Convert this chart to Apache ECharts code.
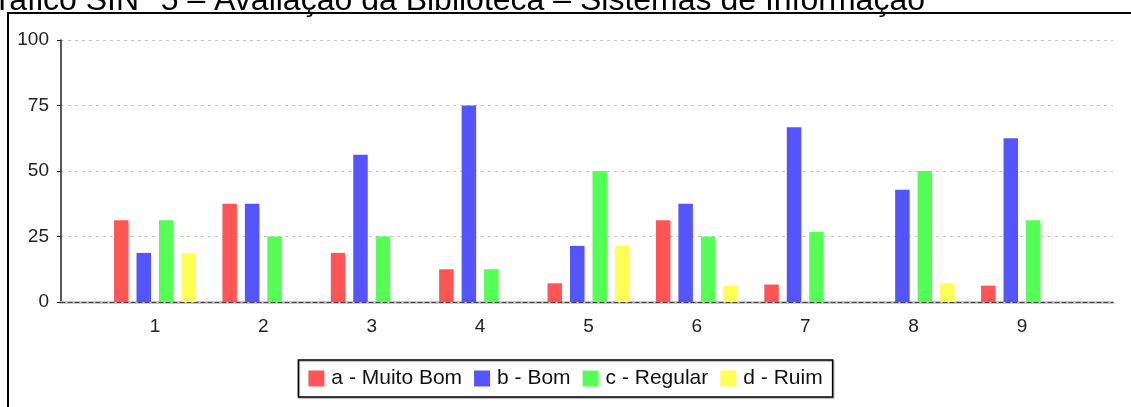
<!DOCTYPE html>
<html>
<head>
<meta charset="utf-8">
<script src="https://cdn.jsdelivr.net/npm/echarts@6/dist/echarts.min.js"></script>
<style>
html,body{margin:0;padding:0;background:#fff;}
#chart{width:1131px;height:407px;}
</style>
</head>
<body>
<div id="chart"></div>
<script>
const titleText = 'Gráfico SIN° 5 – Avaliação da Biblioteca – Sistemas de Informação';
const categories = ['1','2','3','4','5','6','7','8','9'];
const seriesNames = ['a - Muito Bom','b - Bom','c - Regular','d - Ruim'];
const muitoBom = [31.25, 37.5, 18.75, 12.5, 7.14, 31.25, 6.67, 0, 6.25];
const bom      = [18.75, 37.5, 56.25, 75, 21.43, 37.5, 66.67, 42.86, 62.5];
const regular  = [31.25, 25, 25, 12.5, 50, 25, 26.67, 50, 31.25];
const ruim     = [18.75, 0, 0, 0, 21.43, 6.25, 0, 7.14, 0];
const colors = ['#FF5555','#5555FF','#55FF55','#FFFF55'];

const FONT = 'Liberation Sans, Arial, sans-serif';
const chart = echarts.init(document.getElementById('chart'), null, {renderer:'canvas'});
const allData = [muitoBom, bom, regular, ruim];

chart.setOption({
  animation:false,
  color: colors,
  textStyle:{fontFamily:FONT},
  graphic:[
    {type:'rect', shape:{x:8, y:13, width:1140, height:420}, style:{fill:'none', stroke:'#000', lineWidth:2}, z:-1},
    {type:'text', right:206, top:-15, style:{text:titleText, font:'32px '+FONT, fill:'#000'}}
  ],
  legend:{
    data: seriesNames,
    left:'center', top:360,
    itemWidth:16, itemHeight:16, itemGap:12,
    icon:'rect',
    padding:[8,10,8,10],
    borderColor:'#000', borderWidth:1.5,
    shadowColor:'rgba(0,0,0,0.35)', shadowOffsetX:1, shadowOffsetY:1, shadowBlur:1,
    textStyle:{fontSize:21, color:'#111', fontFamily:FONT, padding:[0,0,0,2]}
  },
  grid:[
    {left:61, right:18, top:40, bottom:105},
    {left:100.8, right:54.8, top:40, bottom:105}
  ],
  xAxis:[
    {gridIndex:0, type:'value', min:0, max:1, position:'bottom',
     axisLine:{show:true, lineStyle:{color:'#c8c8c8', width:3}},
     axisTick:{show:false}, axisLabel:{show:false}, splitLine:{show:false}},
    {gridIndex:0, type:'value', min:0, max:1, position:'bottom', offset:0,
     axisLine:{show:true, lineStyle:{color:'#444', width:1.2, type:[4,3]}},
     axisTick:{show:false}, axisLabel:{show:false}, splitLine:{show:false}},
    {gridIndex:1, type:'category', data:categories,
     axisLine:{show:false}, axisTick:{show:false},
     axisLabel:{fontSize:19, color:'#222', margin:15, fontFamily:FONT}}
  ],
  yAxis:[
    {gridIndex:0, type:'value', min:0, max:100, interval:25,
     axisLine:{show:true, lineStyle:{color:'#222', width:1.5}},
     axisTick:{show:true, length:4, lineStyle:{color:'#222'}},
     axisLabel:{fontSize:19, color:'#222', margin:12, fontFamily:FONT},
     splitLine:{show:true, lineStyle:{color:'#c8c8c8', width:1, type:[3,4]}}},
    {gridIndex:1, type:'value', min:0, max:100, interval:25, show:false}
  ],
  series: allData.map((d,i)=>({
    name: seriesNames[i], type:'bar', xAxisIndex:2, yAxisIndex:1,
    data:d, barWidth:14.5, barGap:'55%',
    itemStyle:{color:colors[i]}
  }))
});
</script>
</body>
</html>
